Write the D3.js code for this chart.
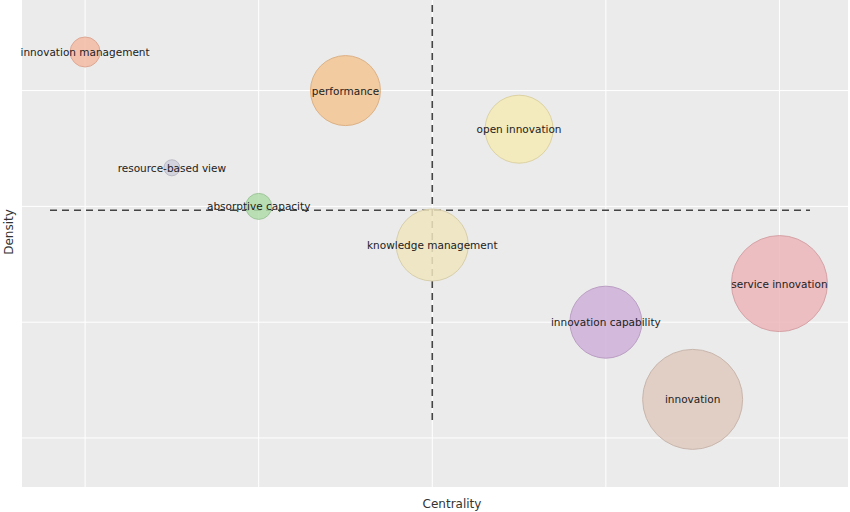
<!DOCTYPE html><html><head><script src="https://d3js.org/d3.v7.min.js"></script>
<style>body{margin:0}text{font-family:"DejaVu Sans",sans-serif}</style></head><body><script>
const names=["innovation management","resource-based view","absorptive capacity","performance","knowledge management","open innovation","innovation capability","innovation","service innovation"];
const centrality=[1,2,3,4,5,6,7,8,9];
const density=[1,4,5,2,6,3,8,10,7];
const radius=[15,8,13,35,36,34,36,50,48];
const colors=["#f5bba5","#cfcfdc","#b0dcaa","#f5c594","#efe5be","#f5eab5","#cfb0d9","#dfcabf","#ecb5ba"];
const xTicks=[1,3,5,7,9], yTicks=[2,5,8,11];
const W=850,H=512,L=22,R=848,T=0,B=487;
const svg=d3.select("body").append("svg").attr("width",W).attr("height",H);
svg.append("rect").attr("x",L).attr("y",T).attr("width",R-L).attr("height",B-T).attr("fill","#ebebeb");
const x=d3.scaleLinear().domain([0.273,9.79]).range([L,R]);
const y=d3.scaleLinear().domain([-0.347,12.27]).range([T,B]);
svg.selectAll(".gx").data(xTicks).join("line").attr("x1",x).attr("x2",x).attr("y1",T).attr("y2",B).attr("stroke","#fff");
svg.selectAll(".gy").data(yTicks).join("line").attr("y1",y).attr("y2",y).attr("x1",L).attr("x2",R).attr("stroke","#fff");
svg.append("line").attr("x1",x(5)).attr("x2",x(5)).attr("y1",5).attr("y2",420).attr("stroke","#444").attr("stroke-width",1.6).attr("stroke-dasharray","7,5");
svg.append("line").attr("x1",50).attr("x2",810).attr("y1",y(5.1)).attr("y2",y(5.1)).attr("stroke","#444").attr("stroke-width",1.6).attr("stroke-dasharray","7,5");
const g=svg.selectAll(".p").data(names).join("g");
g.append("circle").attr("cx",(d,i)=>x(centrality[i])).attr("cy",(d,i)=>y(density[i])).attr("r",(d,i)=>radius[i]).attr("fill",(d,i)=>colors[i]).attr("fill-opacity",0.85).attr("stroke",(d,i)=>d3.color(colors[i]).darker(0.3)).attr("stroke-width",1);
g.append("text").attr("x",(d,i)=>x(centrality[i])).attr("y",(d,i)=>y(density[i])+4).attr("text-anchor","middle").attr("font-size",10.5).attr("fill","#222").text(d=>d);
svg.append("text").attr("x",452).attr("y",508).attr("text-anchor","middle").attr("font-size",12).attr("fill","#333").text("Centrality");
svg.append("text").attr("transform","translate(13,232) rotate(-90)").attr("text-anchor","middle").attr("font-size",12).attr("fill","#333").text("Density");
</script></body></html>
